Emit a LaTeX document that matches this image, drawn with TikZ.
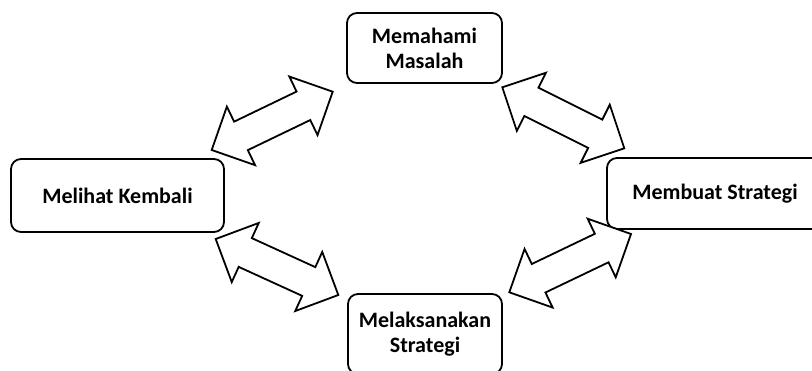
\documentclass[tikz,border=0pt]{standalone}
\usepackage{fontspec}
\setmainfont{Carlito}
\usetikzlibrary{calc}
\tikzset{
  box/.style={draw, line width=1.8pt, rounded corners=10pt, fill=white, align=center,
    font=\bfseries\fontsize{22}{25}\selectfont, inner sep=0pt},
  barrow/.style={draw, line width=1.8pt, line join=miter, fill=white}
}
\newcommand\hdlen{32.5pt}
\newcommand\hdwid{32.5pt}
\newcommand\shwid{15.8pt}
\newcommand\dblarrow[2]{%
  \draw[barrow] (#1)
    -- ($(#1)!\hdlen!(#2)!\hdwid!90:(#2)$)
    -- ($(#1)!\hdlen!(#2)!\shwid!90:(#2)$)
    -- ($(#2)!\hdlen!(#1)!\shwid!-90:(#1)$)
    -- ($(#2)!\hdlen!(#1)!\hdwid!-90:(#1)$)
    -- (#2)
    -- ($(#2)!\hdlen!(#1)!\hdwid!90:(#1)$)
    -- ($(#2)!\hdlen!(#1)!\shwid!90:(#1)$)
    -- ($(#1)!\hdlen!(#2)!\shwid!-90:(#2)$)
    -- ($(#1)!\hdlen!(#2)!\hdwid!-90:(#2)$)
    -- cycle;}
\begin{document}
\begin{tikzpicture}[x=1pt,y=-1pt]
\useasboundingbox (0,0) rectangle (812,371);
\node[box, minimum width=155pt, minimum height=70pt] (mm) at (424.5,48) {Memahami\\Masalah};
\node[box, minimum width=213pt, minimum height=73pt] (mk) at (117.5,195.5) {Melihat Kembali};
\node[box, minimum width=216pt, minimum height=71pt] (ms) at (715,193.5) {Membuat Strategi};
\node[box, minimum width=154pt, minimum height=80pt] (ls) at (425,334) {Melaksanakan\\Strategi};
\coordinate (a1) at (211.7,150);
\coordinate (a2) at (332.7,91.7);
\coordinate (b1) at (502.3,87.3);
\coordinate (b2) at (624.3,148.3);
\coordinate (c1) at (215.7,239);
\coordinate (c2) at (338.3,295);
\coordinate (d1) at (509.3,292.3);
\coordinate (d2) at (631,234);
\dblarrow{a1}{a2}
\dblarrow{b1}{b2}
\dblarrow{c1}{c2}
\dblarrow{d1}{d2}
\end{tikzpicture}
\end{document}
